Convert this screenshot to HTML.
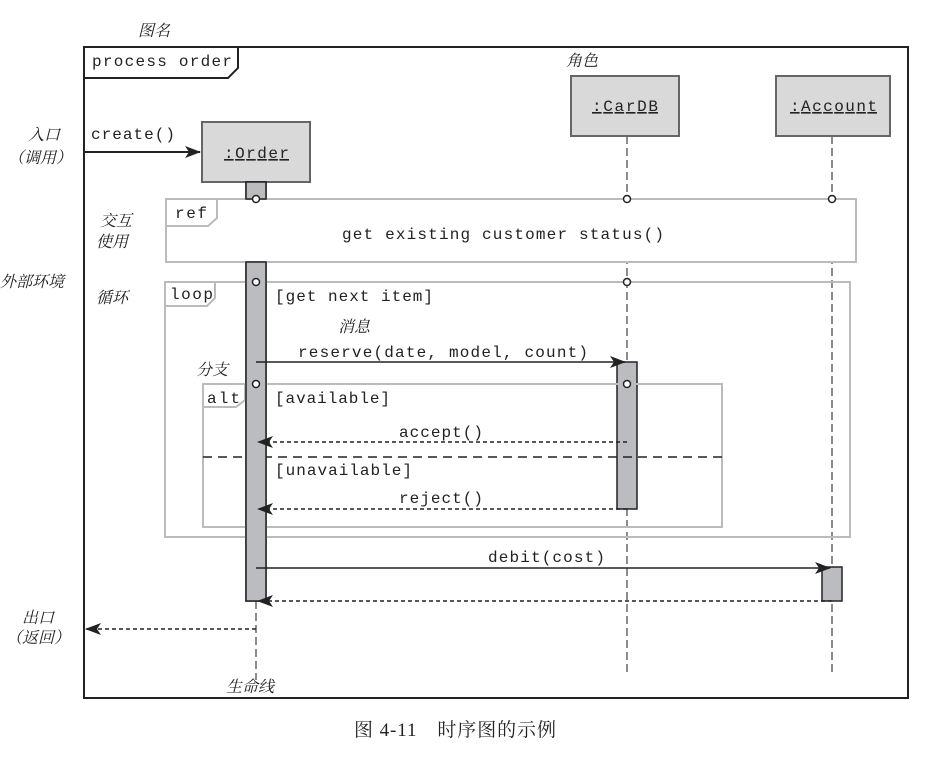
<!DOCTYPE html>
<html><head><meta charset="utf-8"><style>
body{margin:0;background:#fff;}
svg{display:block;}
.m{font-family:"Liberation Mono",monospace;font-size:16px;fill:#222;}
.c{font-family:"Liberation Serif","Noto Serif CJK SC",serif;font-style:italic;font-size:16px;fill:#222;}
</style></head><body>
<svg width="952" height="757" viewBox="0 0 952 757" xmlns="http://www.w3.org/2000/svg">
<defs>
<marker id="a" markerWidth="16" markerHeight="12" refX="15" refY="6" orient="auto" markerUnits="userSpaceOnUse">
<path d="M0,0 L16,6 L0,12 L4,6 Z" fill="#222"/></marker>
</defs>
<rect x="84" y="47" width="824" height="651" fill="none" stroke="#222" stroke-width="2"/>
<path d="M84,78 H228 L238,68 V47" fill="none" stroke="#222" stroke-width="2"/>
<text class="m" x="92" y="66" textLength="140">process order</text>

<line x1="256" y1="601" x2="256" y2="680" stroke="#666" stroke-dasharray="8,4" stroke-width="1.5"/>
<line x1="627" y1="136" x2="627" y2="672" stroke="#666" stroke-dasharray="8,4" stroke-width="1.5"/>
<line x1="832" y1="136" x2="832" y2="672" stroke="#666" stroke-dasharray="8,4" stroke-width="1.5"/>

<rect x="202" y="122" width="108" height="60" fill="#d9d9d9" stroke="#666" stroke-width="2"/>
<text class="m" x="224" y="158" textLength="65" text-decoration="underline">:Order</text>
<rect x="571" y="76" width="108" height="60" fill="#d9d9d9" stroke="#666" stroke-width="2"/>
<text class="m" x="592" y="111" textLength="66" text-decoration="underline">:CarDB</text>
<rect x="776" y="76" width="114" height="60" fill="#d9d9d9" stroke="#666" stroke-width="2"/>
<text class="m" x="790" y="111" textLength="87" text-decoration="underline">:Account</text>

<rect x="246" y="182" width="20" height="419" fill="#bbbcbf" stroke="#222" stroke-width="1.5"/>
<rect x="617" y="362" width="20" height="147" fill="#bbbcbf" stroke="#222" stroke-width="1.5"/>
<rect x="822" y="567" width="20" height="34" fill="#bbbcbf" stroke="#222" stroke-width="1.5"/>

<rect x="166" y="199" width="690" height="63" fill="#fff" stroke="#bbb" stroke-width="2"/>
<path d="M166,226 H208 L217,218 V199" fill="none" stroke="#bbb" stroke-width="2"/>
<text class="m" x="175" y="218" textLength="32">ref</text>
<text class="m" x="342" y="239" textLength="322">get existing customer status()</text>

<rect x="165" y="282" width="685" height="255" fill="none" stroke="#bbb" stroke-width="2"/>
<path d="M165,306 H207 L215,298 V282" fill="none" stroke="#bbb" stroke-width="2"/>
<text class="m" x="170" y="299" textLength="43">loop</text>
<text class="m" x="275" y="301" textLength="158">[get next item]</text>

<rect x="203" y="384" width="519" height="143" fill="none" stroke="#bbb" stroke-width="2"/>
<path d="M203,407 H236 L245,400 V384" fill="none" stroke="#bbb" stroke-width="2"/>
<text class="m" x="207" y="403" textLength="33">alt</text>
<text class="m" x="275" y="403" textLength="115">[available]</text>
<line x1="203" y1="457" x2="722" y2="457" stroke="#222" stroke-width="1.5" stroke-dasharray="9,6"/>
<text class="m" x="275" y="475" textLength="137">[unavailable]</text>

<rect x="246" y="262" width="20" height="339" fill="#bbbcbf" stroke="#222" stroke-width="1.5"/>
<rect x="246" y="182" width="20" height="17" fill="#bbbcbf" stroke="#222" stroke-width="1.5"/>

<g fill="#fff" stroke="#222" stroke-width="1.5">
<circle cx="256" cy="199" r="3.5"/><circle cx="627" cy="199" r="3.5"/><circle cx="832" cy="199" r="3.5"/>
<circle cx="256" cy="282" r="3.5"/><circle cx="627" cy="282" r="3.5"/>
<circle cx="256" cy="384" r="3.5"/><circle cx="627" cy="384" r="3.5"/>
</g>

<line x1="84" y1="152" x2="200" y2="152" stroke="#222" stroke-width="2" marker-end="url(#a)"/>
<text class="m" x="91" y="139" textLength="84">create()</text>
<line x1="256" y1="362" x2="625" y2="362" stroke="#222" stroke-width="1.5" marker-end="url(#a)"/>
<text class="m" x="298" y="357" textLength="290">reserve(date, model, count)</text>
<line x1="627" y1="442" x2="258" y2="442" stroke="#222" stroke-width="1.5" stroke-dasharray="4,3" marker-end="url(#a)"/>
<text class="m" x="399" y="437" textLength="84">accept()</text>
<line x1="627" y1="509" x2="258" y2="509" stroke="#222" stroke-width="1.5" stroke-dasharray="4,3" marker-end="url(#a)"/>
<text class="m" x="399" y="503" textLength="84">reject()</text>
<line x1="256" y1="568" x2="830" y2="568" stroke="#222" stroke-width="1.5" marker-end="url(#a)"/>
<text class="m" x="488" y="562" textLength="117">debit(cost)</text>
<line x1="832" y1="601" x2="258" y2="601" stroke="#222" stroke-width="1.5" stroke-dasharray="4,3" marker-end="url(#a)"/>
<line x1="256" y1="629" x2="86" y2="629" stroke="#222" stroke-width="1.5" stroke-dasharray="4,3" marker-end="url(#a)"/>

<text class="c" x="138" y="36">图名</text>
<text class="c" x="566" y="66">角色</text>
<text class="c" x="28" y="140">入口</text>
<text class="c" x="8" y="163">（调用）</text>
<text class="c" x="100" y="226">交互</text>
<text class="c" x="96" y="247">使用</text>
<text class="c" x="0" y="287">外部环境</text>
<text class="c" x="96" y="303">循环</text>
<text class="c" x="338" y="332">消息</text>
<text class="c" x="196" y="375">分支</text>
<text class="c" x="22" y="623">出口</text>
<text class="c" x="6" y="643">（返回）</text>
<text class="c" x="226" y="692">生命线</text>
<text x="354" y="736" textLength="202" style="font-family:'Liberation Serif','Noto Serif CJK SC',serif;font-size:19px;fill:#222">图 4-11　时序图的示例</text>
</svg>
</body></html>
